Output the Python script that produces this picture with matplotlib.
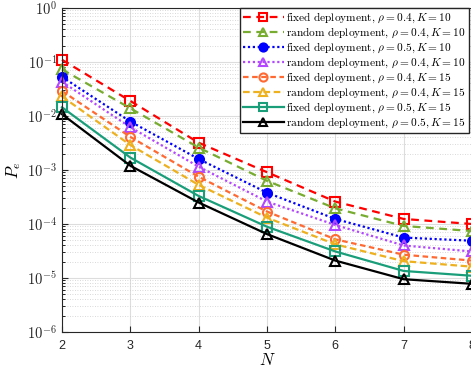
import math
import matplotlib
matplotlib.use("Agg")
import matplotlib.pyplot as plt
from matplotlib.ticker import LogLocator, NullFormatter, FuncFormatter

plt.rcParams["mathtext.fontset"] = "cm"
plt.rcParams["font.family"] = ["Liberation Sans", "DejaVu Sans"]

N = [2, 3, 4, 5, 6, 7, 8]

fixed_04_10 = [0.11, 0.019, 0.0032, 0.00091, 0.00026, 0.000124, 0.0001]
random_04_10 = [0.073, 0.0139, 0.0026, 0.00063, 0.000195, 0.000092, 0.000074]
fixed_05_10 = [0.053, 0.0079, 0.0016, 0.00038, 0.000124, 0.000056, 0.000049]
random_04_10b = [0.043, 0.0062, 0.00115, 0.00026, 0.000096, 0.00004, 0.000031]
fixed_04_15 = [0.029, 0.0041, 0.00075, 0.00017, 0.000052, 0.000027, 0.000021]
random_04_15 = [0.023, 0.0029, 0.00053, 0.000131, 0.000042, 0.0000205, 0.0000162]
fixed_05_15 = [0.0145, 0.0017, 0.00033, 0.000089, 0.000031, 0.0000135, 0.000011]
random_05_15 = [0.0108, 0.0012, 0.00025, 0.000065, 0.000021, 0.0000095, 0.0000078]

labels = [
    r"$\mathrm{fixed\ deployment},\,\rho=0.4, K=10$",
    r"$\mathrm{random\ deployment},\,\rho=0.4, K=10$",
    r"$\mathrm{fixed\ deployment},\,\rho=0.5, K=10$",
    r"$\mathrm{random\ deployment},\,\rho=0.4, K=10$",
    r"$\mathrm{fixed\ deployment},\,\rho=0.4, K=15$",
    r"$\mathrm{random\ deployment},\,\rho=0.4, K=15$",
    r"$\mathrm{fixed\ deployment},\,\rho=0.5, K=15$",
    r"$\mathrm{random\ deployment},\,\rho=0.5, K=15$",
]

series = [fixed_04_10, random_04_10, fixed_05_10, random_04_10b,
          fixed_04_15, random_04_15, fixed_05_15, random_05_15]
colors = ["#ff0000", "#77ac30", "#0000ff", "#b347ff",
          "#ff6a33", "#edb120", "#1a9e7a", "#000000"]
markers = ["s", "^", "o", "^", "o", "^", "s", "^"]
styles = [(0, (3.5, 2.5)), (0, (3.5, 2.5)), (0, (1, 1.2)), (0, (1, 1.2)),
          (0, (2.5, 1.6)), (0, (3, 1.6)), "-", "-"]
filled = [False, False, True, False, False, False, False, False]


def pow10(v, pos):
    return r"$\mathsf{10^{%d}}$" % round(math.log10(v))


fig = plt.figure(figsize=(4.71, 3.71), dpi=100)
ax = fig.add_axes([62 / 471, (371 - 332) / 371, (472 - 62) / 471, 324 / 371])

for y, c, m, ls, f, lab in zip(series, colors, markers, styles, filled, labels):
    ax.plot(N, y, color=c, marker=m, linestyle=ls, linewidth=1.6,
            markersize=6.5, markeredgewidth=1.5,
            markerfacecolor=c if f else "none", label=lab, clip_on=False)

ax.set_yscale("log")
ax.set_ylim(1e-6, 1)
ax.set_xlim(2, 8)
ax.set_xticks(N)
ax.yaxis.set_major_locator(LogLocator(base=10, numticks=10))
ax.yaxis.set_major_formatter(FuncFormatter(pow10))
ax.yaxis.set_minor_locator(LogLocator(base=10, subs=range(2, 10), numticks=20))
ax.yaxis.set_minor_formatter(NullFormatter())

ax.grid(True, which="major", color="#dddddd", linewidth=0.8)
ax.grid(True, which="minor", axis="y", color="#cccccc", linestyle=(0, (1, 2)), linewidth=0.6)
ax.tick_params(direction="in", labelsize=10.5, colors="#262626", length=4)
ax.tick_params(axis="x", labelsize=9, pad=6)
ax.tick_params(which="minor", direction="in", length=2)
for s in ax.spines.values():
    s.set_color("#262626")

ax.set_xlabel(r"$N$", fontsize=12, labelpad=0)
ax.set_ylabel(r"$P_e$", fontsize=12, labelpad=3)

ax.legend(loc="upper left", bbox_to_anchor=(240 / 471, 1 - 8 / 371),
          bbox_transform=fig.transFigure, borderaxespad=0, fontsize=8.2,
          handlelength=3.6, handletextpad=0.2, labelspacing=0.05,
          fancybox=False, edgecolor="#262626", framealpha=1, borderpad=0.25,
          markerscale=0.9)

fig.savefig("out.png", dpi=100)
